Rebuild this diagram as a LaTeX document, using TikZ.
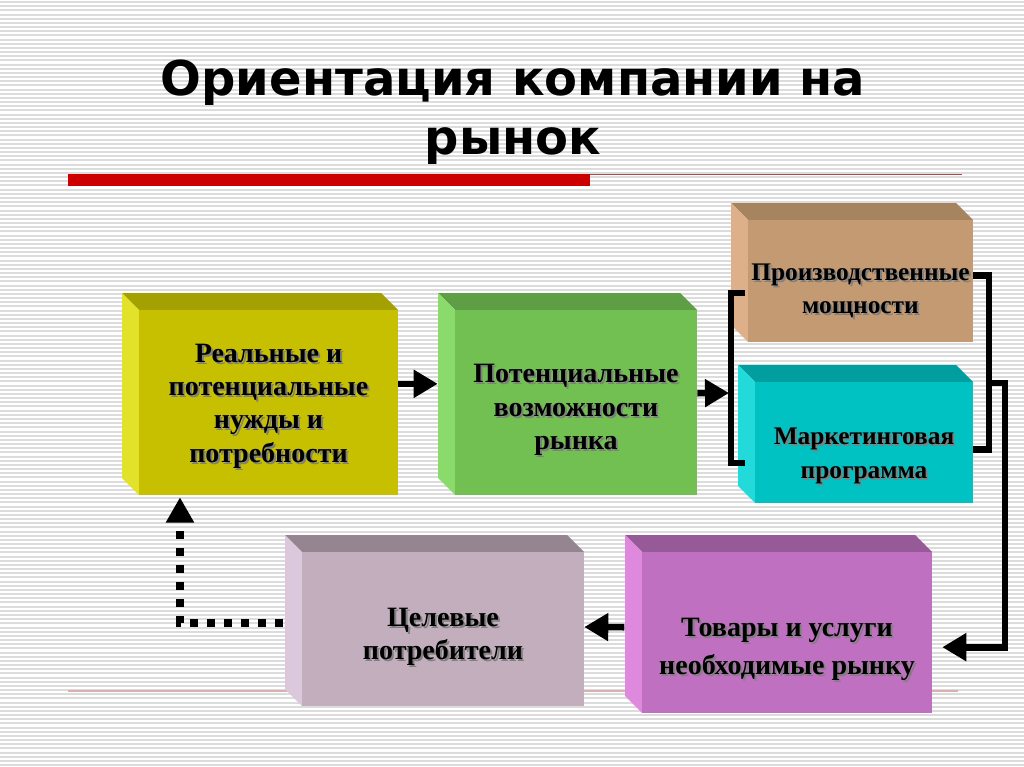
\documentclass[tikz,border=0pt]{standalone}
\usepackage{fontspec}
\setmainfont{Liberation Serif}
\newfontfamily\titlefont{DejaVu Sans}
\usetikzlibrary{arrows.meta}

\definecolor{stripe}{HTML}{DCDCDC}
\definecolor{redbar}{HTML}{CC0000}
\definecolor{redline}{HTML}{B04848}
\definecolor{pinkline}{HTML}{D8B0B0}
\definecolor{yelF}{HTML}{C6C000}\definecolor{yelT}{HTML}{A3A000}\definecolor{yelS}{HTML}{E2E22A}
\definecolor{grnF}{HTML}{72C052}\definecolor{grnT}{HTML}{5E9E44}\definecolor{grnS}{HTML}{8ADB6C}
\definecolor{tanF}{HTML}{C49A72}\definecolor{tanT}{HTML}{A78460}\definecolor{tanS}{HTML}{DDB08A}
\definecolor{tealF}{HTML}{00C2C2}\definecolor{tealT}{HTML}{009E9E}\definecolor{tealS}{HTML}{22DADA}
\definecolor{gryF}{HTML}{C2AEBC}\definecolor{gryT}{HTML}{958590}\definecolor{gryS}{HTML}{DCC8DC}
\definecolor{purF}{HTML}{C070C0}\definecolor{purT}{HTML}{975A98}\definecolor{purS}{HTML}{DE88DE}

\newcommand{\lines}[1]{\begin{tabular}{@{}c@{}}#1\end{tabular}}
\newcommand{\shtext}[1]{\leavevmode\rlap{\kern1.5pt\raisebox{-1.5pt}{\color{black!50}\lines{#1}}}\lines{#1}}
% name, x1, y1, x2, y2, colour, text, size, text drop
\newcommand{\cuboid}[9]{%
  \fill[#6T] (#2-17,#3-17) -- (#4-17,#3-17) -- (#4,#3) -- (#2,#3) -- cycle;
  \fill[#6S] (#2-17,#3-17) -- (#2,#3) -- (#2,#5) -- (#2-17,#5-17) -- cycle;
  \node[inner sep=0pt, fill=#6F, minimum width={(#4-#2)*0.75pt}, minimum height={(#5-#3)*0.75pt},
        font=\fontsize{#8}{25}\selectfont\bfseries] (#1) at ({(#2+#4)/2},{(#3+#5)/2})
        {\raisebox{-#9}[\height][\depth]{\shtext{#7}}};
}

\tikzset{
  conn/.style={line width=5pt, -{Triangle[length=18pt,width=20pt]}},
  bar/.style={line width=5pt},
  dots/.style={line width=6pt, dash pattern=on 6pt off 6.75pt, -{Triangle[length=19pt,width=20pt]}}
}

\begin{document}
\begin{tikzpicture}[x=0.75pt,y=-0.75pt]
    \useasboundingbox (0,0) rectangle (1024,767);
    \fill[white] (0,0) rectangle (1024,767);
    \foreach \s in {0,...,183}
        \draw[stripe, line width=1.5pt] (0,2+\s*4.17) -- (1024,2+\s*4.17);
    \node[font=\titlefont\bfseries\fontsize{36}{44}\selectfont, align=center] (title) at (513,112)
        {Ориентация компании на\\рынок};
    \fill[redbar] (68,174) rectangle (590,186);
    \draw[redline, line width=1.2pt] (590,174.5) -- (962,174.5);
    \draw[pinkline, line width=1.2pt] (68,691) -- (958,691);

    \cuboid{yel}{139}{310}{398}{495}{yel}{Реальные и\\потенциальные\\нужды и\\потребности}{21}{3pt}
    \cuboid{grn}{455}{310}{697}{495}{grn}{Потенциальные\\возможности\\рынка}{21}{6pt}
    \cuboid{tan}{748}{220}{973}{342}{tan}{Производственные\\мощности}{19}{7.5pt}
    \cuboid{teal}{755}{382}{973}{503}{teal}{Маркетинговая\\программа}{19}{10pt}
    \cuboid{gry}{302}{552}{584}{706}{gry}{Целевые\\потребители}{21}{6pt}
    \cuboid{pur}{642}{552}{932}{713}{pur}{Товары и услуги\\[4pt]необходимые рынку}{21}{13pt}

    \coordinate (lmid) at (729,393);
    \coordinate (rmid) at (989,383);
    \draw[conn] ([yshift=14pt]yel.east) -- ([xshift=-12.75pt,yshift=14pt]grn.west);
    \draw[conn] ([yshift=7pt]grn.east) -- (lmid);
    \draw[bar] (745,293) -- (731,293) -- (731,463) -- (745,463);
    \draw[bar] ([yshift=4pt]tan.east) -| (rmid) |- ([yshift=-5pt]teal.east);
    \draw[conn] (rmid) -- (1005,383) |- ([xshift=7.5pt,yshift=-11pt]pur.east);
    \draw[conn] ([xshift=-13pt,yshift=4pt]pur.west) -- ([yshift=1.5pt]gry.east);
    \draw[dots] ([xshift=-14pt,yshift=4.5pt]gry.west) -| ([xshift=-66.4pt,yshift=-1.5pt]yel.south);
\end{tikzpicture}
\end{document}
